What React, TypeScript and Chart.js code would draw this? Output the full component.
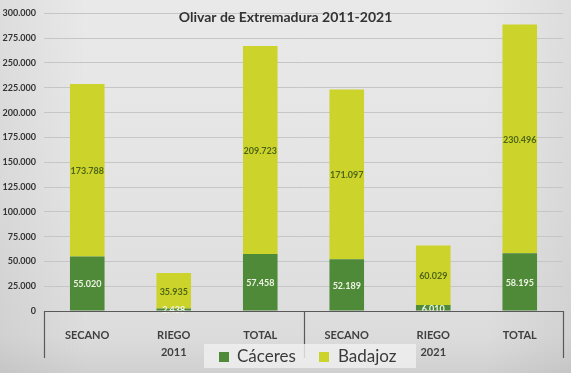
import React, { useEffect, useRef } from "react";
import { Chart, registerables } from "chart.js";

Chart.register(...registerables);

const categories = ["SECANO", "RIEGO", "TOTAL", "SECANO", "RIEGO", "TOTAL"];
const years = ["2011", "2021"];
const caceres = [55020, 2438, 57458, 52189, 6010, 58195];
const badajoz = [173788, 35935, 209723, 171097, 60029, 230496];
const yMax = 300000;
const yStep = 25000;
const titleText = "Olivar de Extremadura 2011-2021";
const seriesNames = ["Cáceres", "Badajoz"];

const GREEN = "#4f8a38";
const YELLOW = "#ccd32a";
const FONT = "Lato, 'Open Sans', sans-serif";

function fmt(v: number): string {
  const s = Math.round(v).toString();
  return s.replace(/\B(?=(\d{3})+(?!\d))/g, ".");
}

const decorPlugin = {
  id: "decor",
  beforeDraw(chart: any) {
    const { ctx, width, height } = chart;
    ctx.save();
    const g = ctx.createLinearGradient(0, 0, 0, height);
    g.addColorStop(0, "#e9e9e9");
    g.addColorStop(0.5, "#e4e4e4");
    g.addColorStop(0.9, "#dcdcdc");
    g.addColorStop(1, "#d0d0d0");
    ctx.fillStyle = g;
    ctx.fillRect(0, 0, width, height);
    const g2 = ctx.createLinearGradient(0, 0, width, 0);
    g2.addColorStop(0, "rgba(0,0,0,0.05)");
    g2.addColorStop(0.15, "rgba(0,0,0,0)");
    g2.addColorStop(0.85, "rgba(0,0,0,0)");
    g2.addColorStop(1, "rgba(0,0,0,0.05)");
    ctx.fillStyle = g2;
    ctx.fillRect(0, 0, width, height);
    ctx.restore();
  },
  afterDatasetsDraw(chart: any) {
    const { ctx } = chart;
    ctx.save();
    ctx.textAlign = "center";
    ctx.textBaseline = "middle";
    ctx.font = `bold 9px ${FONT}`;
    chart.data.datasets.forEach((ds: any, di: number) => {
      const meta = chart.getDatasetMeta(di);
      meta.data.forEach((el: any, i: number) => {
        const y = (el.y + el.base) / 2;
        ctx.fillStyle = di === 0 ? "#eef3e6" : "#4d6518";
        ctx.fillText(fmt(ds.data[i]), el.x, y + 1);
      });
    });
    ctx.restore();
  },
  afterDraw(chart: any) {
    const { ctx, chartArea, scales } = chart;
    const xs = scales.x;
    const bottom = chartArea.bottom;
    ctx.save();
    // axis line
    ctx.strokeStyle = "#595959";
    ctx.lineWidth = 1.2;
    ctx.beginPath();
    ctx.moveTo(chartArea.left, bottom + 0.5);
    ctx.lineTo(chartArea.right, bottom + 0.5);
    const mid = (xs.getPixelForValue(2) + xs.getPixelForValue(3)) / 2;
    [chartArea.left, mid, chartArea.right].forEach((x: number) => {
      ctx.moveTo(Math.round(x) + 0.5, bottom);
      ctx.lineTo(Math.round(x) + 0.5, bottom + 47);
    });
    ctx.stroke();
    // year labels
    ctx.fillStyle = "#404040";
    ctx.font = `bold 11px ${FONT}`;
    ctx.textAlign = "center";
    ctx.textBaseline = "middle";
    ctx.fillText(years[0], (chartArea.left + mid) / 2, bottom + 41);
    ctx.fillText(years[1], (mid + chartArea.right) / 2, bottom + 41);
    // title
    ctx.fillStyle = "#333333";
    ctx.font = `bold 14px ${FONT}`;
    ctx.fillText(titleText, chart.width / 2, 17);
    // legend
    ctx.fillStyle = "rgba(240,240,240,0.8)";
    ctx.fillRect(204, 344, 212, 24);
    ctx.fillStyle = GREEN;
    ctx.fillRect(219, 352, 10, 10);
    ctx.fillStyle = YELLOW;
    ctx.fillRect(319, 352, 10, 10);
    ctx.fillStyle = "#3a3a3a";
    ctx.font = `17px ${FONT}`;
    ctx.textAlign = "left";
    ctx.fillText(seriesNames[0], 237, 357);
    ctx.fillText(seriesNames[1], 338, 357);
    ctx.restore();
  },
};

export default function App() {
  const ref = useRef<HTMLCanvasElement | null>(null);
  useEffect(() => {
    document.body.style.margin = "0";
    if (!ref.current) return;
    const chart = new Chart(ref.current, {
      type: "bar",
      data: {
        labels: categories,
        datasets: [
          {
            label: seriesNames[0],
            data: caceres,
            backgroundColor: GREEN,
            barPercentage: 0.4,
            categoryPercentage: 1,
          },
          {
            label: seriesNames[1],
            data: badajoz,
            backgroundColor: YELLOW,
            barPercentage: 0.4,
            categoryPercentage: 1,
          },
        ],
      },
      options: {
        animation: false,
        responsive: false,
        layout: { padding: { top: 9, right: 8, left: 0, bottom: 0 } },
        plugins: {
          legend: { display: false },
          title: { display: false },
          tooltip: { enabled: false },
        },
        scales: {
          x: {
            stacked: true,
            grid: { display: false },
            border: { display: false },
            ticks: {
              color: "#404040",
              font: { family: FONT, size: 11, weight: "bold" },
              padding: 10,
              maxRotation: 0,
            },
            afterFit(scale: any) {
              scale.height = 62;
            },
          },
          y: {
            stacked: true,
            min: 0,
            max: yMax,
            ticks: {
              stepSize: yStep,
              color: "#333333",
              font: { family: FONT, size: 9, weight: "bold" },
              padding: 8,
              callback: (v: any) => fmt(Number(v)),
            },
            grid: { color: "#c6c6c6", lineWidth: 1, drawTicks: false },
            border: { display: false },
            afterFit(scale: any) {
              scale.width = 44;
            },
          },
        },
      },
      plugins: [decorPlugin],
    });
    return () => chart.destroy();
  }, []);
  return (
    <div style={{ position: "absolute", left: 0, top: 0, width: 571, height: 373 }}>
      <canvas ref={ref} width={571} height={373} />
    </div>
  );
}
